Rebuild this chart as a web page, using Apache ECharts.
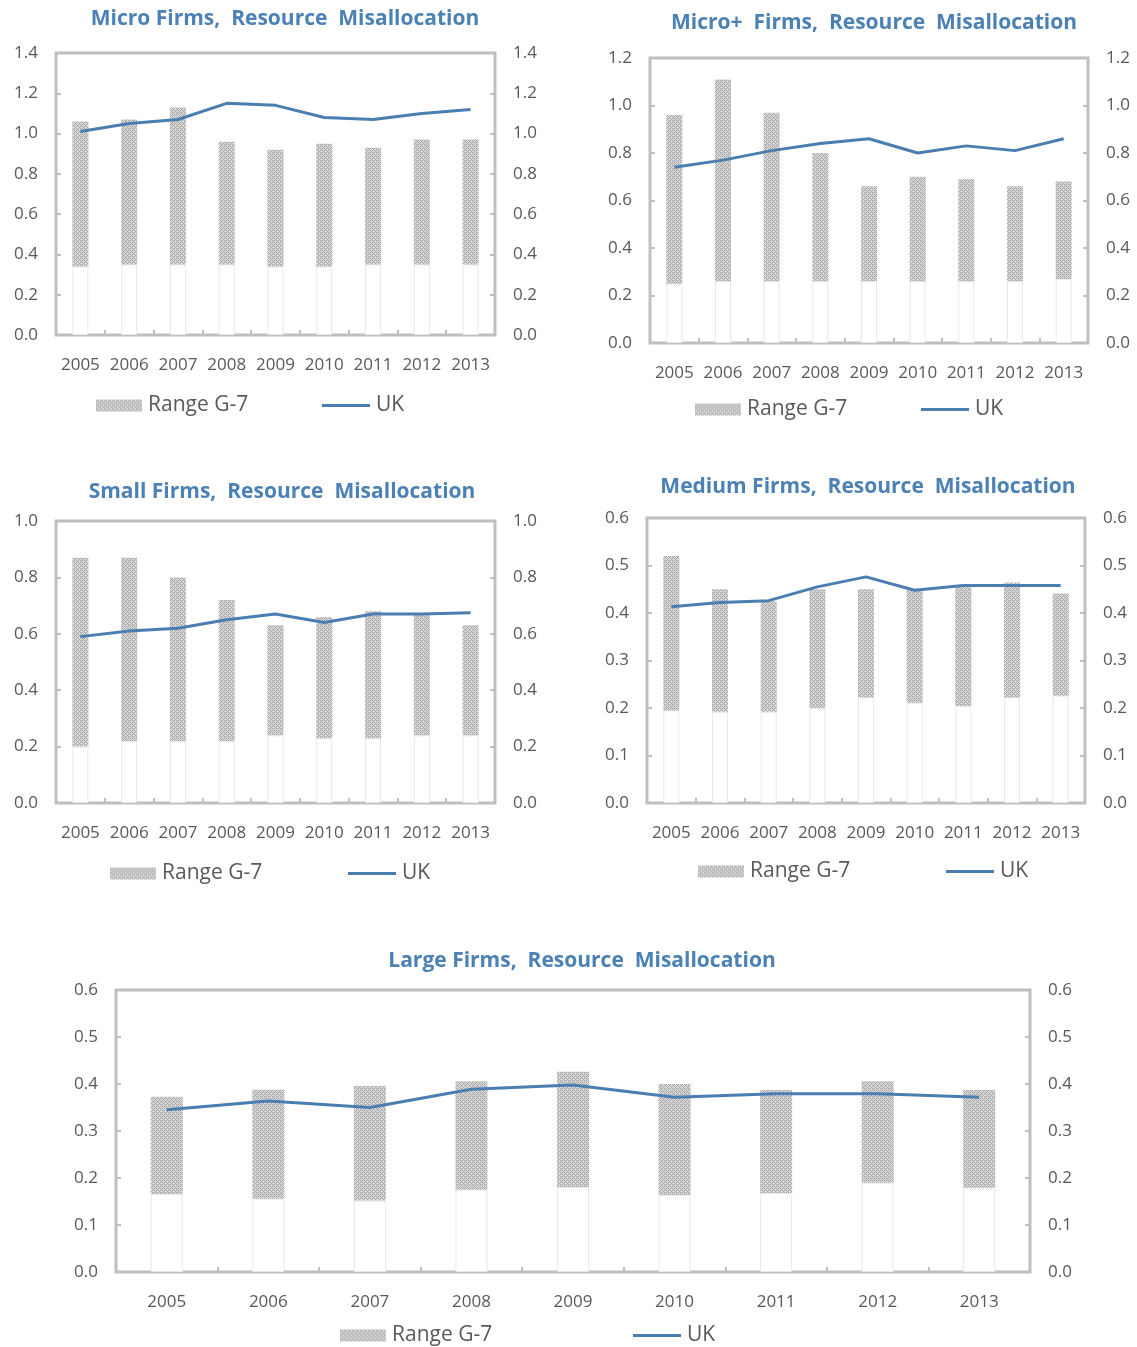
<!DOCTYPE html>
<html><head><meta charset="utf-8">
<script src="https://cdn.jsdelivr.net/npm/echarts@6/dist/echarts.min.js"></script>
<style>html,body{margin:0;padding:0;background:#fff}#c{width:1137px;height:1347px}</style>
</head><body><div id="c"></div>
<script>
// ---------- DATA ----------
const years = ['2005','2006','2007','2008','2009','2010','2011','2012','2013'];

const microMin = [0.34,0.35,0.35,0.35,0.34,0.34,0.35,0.35,0.35];
const microMax = [1.06,1.07,1.13,0.96,0.92,0.95,0.93,0.97,0.97];
const microUK  = [1.01,1.05,1.07,1.15,1.14,1.08,1.07,1.10,1.12];

const microPlusMin = [0.25,0.26,0.26,0.26,0.26,0.26,0.26,0.26,0.27];
const microPlusMax = [0.96,1.11,0.97,0.80,0.66,0.70,0.69,0.66,0.68];
const microPlusUK  = [0.74,0.77,0.81,0.84,0.86,0.80,0.83,0.81,0.86];

const smallMin = [0.20,0.22,0.22,0.22,0.24,0.23,0.23,0.24,0.24];
const smallMax = [0.87,0.87,0.80,0.72,0.63,0.66,0.68,0.67,0.63];
const smallUK  = [0.59,0.61,0.62,0.65,0.67,0.64,0.67,0.67,0.675];

const mediumMin = [0.195,0.192,0.192,0.20,0.222,0.211,0.204,0.222,0.226];
const mediumMax = [0.52,0.45,0.425,0.45,0.45,0.45,0.457,0.464,0.441];
const mediumUK  = [0.413,0.422,0.426,0.455,0.476,0.448,0.458,0.458,0.458];

const largeMin = [0.166,0.156,0.152,0.175,0.181,0.164,0.168,0.19,0.179];
const largeMax = [0.373,0.388,0.396,0.406,0.426,0.40,0.387,0.406,0.387];
const largeUK  = [0.345,0.364,0.35,0.389,0.398,0.372,0.379,0.379,0.372];

const titles = [
  'Micro Firms,  Resource  Misallocation',
  'Micro+  Firms,  Resource  Misallocation',
  'Small Firms,  Resource  Misallocation',
  'Medium Firms,  Resource  Misallocation',
  'Large Firms,  Resource  Misallocation'
];
const axisMax = [1.4, 1.2, 1.0, 0.6, 0.6];
const axisStep = [0.2, 0.2, 0.2, 0.1, 0.1];
const legendRange = 'Range G-7';
const legendUK = 'UK';

// ---------- STYLE / LAYOUT ----------
const FONT = '"Open Sans", "Noto Sans", sans-serif';
const TXT = '#595959';
const FRAME = '#bfbfbf';
const BLUE = '#4a7eb1';
const TITLE_C = '#4b81b5';

function makePattern() {
  const c = document.createElement('canvas');
  c.width = 4; c.height = 4;
  const g = c.getContext('2d');
  g.fillStyle = '#d8d8d8'; g.fillRect(0, 0, 4, 4);
  g.fillStyle = '#a4a4a4';
  [[0,0],[1,1],[2,2],[3,3],[2,0],[0,2]].forEach(p => g.fillRect(p[0], p[1], 1, 1));
  return c;
}
const pattern = { image: makePattern(), repeat: 'repeat' };

const panels = [
  { mins: microMin, maxs: microMax, uk: microUK, grid: {left:56, top:53, width:439, height:282}, tx:285, ty:9, barW:16, lr:[96,404], lu:[322,404] },
  { mins: microPlusMin, maxs: microPlusMax, uk: microPlusUK, grid: {left:650, top:58, width:438, height:285}, tx:874, ty:13, barW:16, lr:[695,408], lu:[921,408] },
  { mins: smallMin, maxs: smallMax, uk: smallUK, grid: {left:56, top:521, width:439, height:282}, tx:282, ty:482, barW:16, lr:[110,872], lu:[348,872] },
  { mins: mediumMin, maxs: mediumMax, uk: mediumUK, grid: {left:647, top:518, width:438, height:285}, tx:868, ty:477, barW:16, lr:[698,870], lu:[946,870] },
  { mins: largeMin, maxs: largeMax, uk: largeUK, grid: {left:116, top:990, width:914, height:282}, tx:582, ty:951, barW:32, lr:[340,1334], lu:[633,1334] }
];

const option = {
  animation: false,
  backgroundColor: '#ffffff',
  title: [], grid: [], xAxis: [], yAxis: [], series: [], legend: []
};

panels.forEach((p, i) => {
  option.title.push({
    text: titles[i], left: p.tx, top: p.ty, textAlign: 'center', padding: 0,
    textStyle: { color: TITLE_C, fontFamily: FONT, fontWeight: 'bold', fontSize: 21 }
  });
  option.grid.push(Object.assign({ show: true, borderColor: FRAME, borderWidth: 3, backgroundColor: 'transparent', containLabel: false }, p.grid));
  option.xAxis.push({
    type: 'category', gridIndex: i, data: years, boundaryGap: true,
    axisLine: { show: false },
    axisTick: { show: true, inside: true, length: 5, lineStyle: { color: FRAME, width: 2 } },
    axisLabel: { color: TXT, fontFamily: FONT, fontSize: 17, margin: 22, interval: 0 },
    splitLine: { show: false }
  });
  const yCommon = (pos) => ({
    type: 'value', gridIndex: i, position: pos, min: 0, max: axisMax[i], interval: axisStep[i],
    axisLine: { show: false },
    axisTick: { show: true, inside: true, length: 5, lineStyle: { color: FRAME, width: 2 } },
    axisLabel: { color: TXT, fontFamily: FONT, fontSize: 17, margin: 18, formatter: v => v.toFixed(1) },
    splitLine: { show: false }
  });
  const yl = option.yAxis.length;
  option.yAxis.push(yCommon('left'));
  option.yAxis.push(yCommon('right'));
  option.series.push({
    type: 'bar', name: 'base' + i, xAxisIndex: i, yAxisIndex: yl, stack: 's' + i,
    data: p.mins, barWidth: p.barW,
    itemStyle: { color: '#ffffff', borderColor: '#e9e9e9', borderWidth: 1 },
    silent: true
  });
  option.series.push({
    type: 'bar', name: legendRange, xAxisIndex: i, yAxisIndex: yl, stack: 's' + i,
    data: p.maxs.map((v, k) => +(v - p.mins[k]).toFixed(4)), barWidth: p.barW,
    itemStyle: { color: pattern }
  });
  option.series.push({
    type: 'line', name: legendUK, xAxisIndex: i, yAxisIndex: yl,
    data: p.uk, symbol: 'none', lineStyle: { color: BLUE, width: 3 }, itemStyle: { color: BLUE }
  });
  const legBase = {
    orient: 'horizontal', padding: 0, itemGap: 0, itemWidth: 46, itemHeight: 12,
    textStyle: { color: TXT, fontFamily: FONT, fontSize: 21, padding: [0, 0, 0, 1] }, selectedMode: false
  };
  option.legend.push(Object.assign({}, legBase, { data: [{name: legendRange, icon: 'rect', itemStyle: { color: pattern }}], left: p.lr[0], top: p.lr[1] - 9 }));
  option.legend.push(Object.assign({}, legBase, { data: [{name: legendUK, icon: 'rect', itemStyle: { color: BLUE }}], left: p.lu[0], top: p.lu[1] - 9, itemWidth: 48, itemHeight: 3 }));
});

const chart = echarts.init(document.getElementById('c'), null, { renderer: 'canvas' });
chart.setOption(option);
</script>
</body></html>
